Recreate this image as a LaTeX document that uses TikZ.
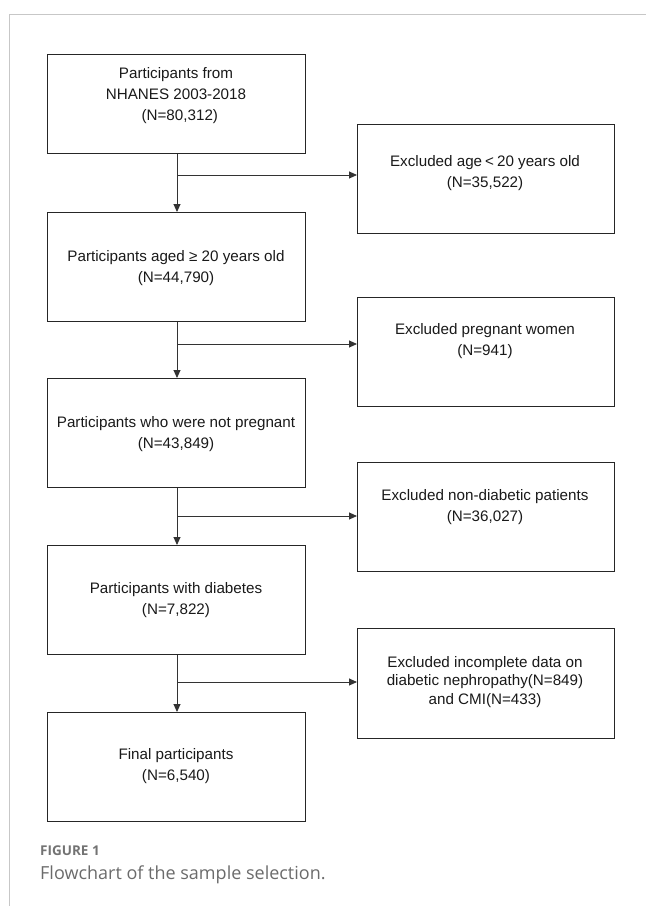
\documentclass[tikz,border=0pt]{standalone}
\usepackage{fontspec}
\setmainfont{Liberation Sans}
\newfontfamily\capfont{Open Sans}
\usetikzlibrary{arrows.meta}
\begin{document}
\begin{tikzpicture}[x=1pt,y=-1pt,
  box/.style={draw=black!85,line width=0.9pt,minimum width=258pt,minimum height=109pt,inner sep=0pt,anchor=north west},
  rbox/.style={box,minimum width=257pt},
  txt/.style={align=center,font=\fontsize{15.2}{21}\selectfont,inner sep=0pt,text=black!90},
  arr/.style={draw=black!80,line width=0.9pt,-{Triangle[length=8pt,width=7pt]}},
  ln/.style={draw=black!80,line width=0.9pt}]
\useasboundingbox (0,0) rectangle (646,906);
\draw[black!22,line width=1pt] (9,906) -- (9,14) -- (646,14);

\node[box,minimum height=99pt] (b1) at (47,54) {};
\node[box] (b2) at (47,212) {};
\node[box] (b3) at (47,378) {};
\node[box] (b4) at (47,545) {};
\node[box] (b5) at (47,712) {};
\node[rbox] (r1) at (357,124) {};
\node[rbox] (r2) at (357,297) {};
\node[rbox] (r3) at (357,462) {};
\node[rbox,minimum height=110pt] (r4) at (357,628) {};

\node[txt] (t1) at (176,96) {Participants from\\NHANES 2003-2018\\\hspace*{0.5em}(N=80,312)};
\node[txt] (t2) at (176,268) {Participants aged \char"2265\ 20 years old\\(N=44,790)};
\node[txt] (t3) at (176,434) {Participants who were not pregnant\\(N=43,849)};
\node[txt] (t4) at (176,600) {Participants with diabetes\\(N=7,822)};
\node[txt] (t5) at (176,766) {Final participants\\(N=6,540)};
\node[txt] (u1) at (485,173) {Excluded age\hspace{3pt}<\hspace{3pt}20 years old\\(N=35,522)};
\node[txt] (u2) at (485,341) {Excluded pregnant women\\(N=941)};
\node[txt] (u3) at (485,507) {Excluded non-diabetic patients\\(N=36,027)};
\node[txt,font=\fontsize{15.2}{18.5}\selectfont] (u4) at (485,682) {Excluded incomplete data on\\diabetic nephropathy(N=849)\\and CMI(N=433)};

\coordinate (c1) at (177,175);
\coordinate (c2) at (177,344);
\coordinate (c3) at (177,516);
\coordinate (c4) at (177,682);

\draw[arr] (b1.south -| c1) -- (b2.north -| c1);
\draw[arr] (b2.south -| c2) -- (b3.north -| c2);
\draw[arr] (b3.south -| c3) -- (b4.north -| c3);
\draw[arr] (b4.south -| c4) -- (b5.north -| c4);
\draw[arr] (c1) -- (c1 -| r1.west);
\draw[arr] (c2) -- (c2 -| r2.west);
\draw[arr] (c3) -- (c3 -| r3.west);
\draw[arr] (c4) -- (c4 -| r4.west);

\node[anchor=base west,inner sep=0pt,font=\capfont\bfseries\fontsize{13.5}{16}\selectfont,text=black!55] (cap1) at (40,855) {FIGURE 1};
\node[anchor=base west,inner sep=0pt,font=\capfont\fontsize{18}{22}\selectfont,text=black!58] (cap2) at (40,879) {Flowchart of the sample selection.};
\end{tikzpicture}
\end{document}
